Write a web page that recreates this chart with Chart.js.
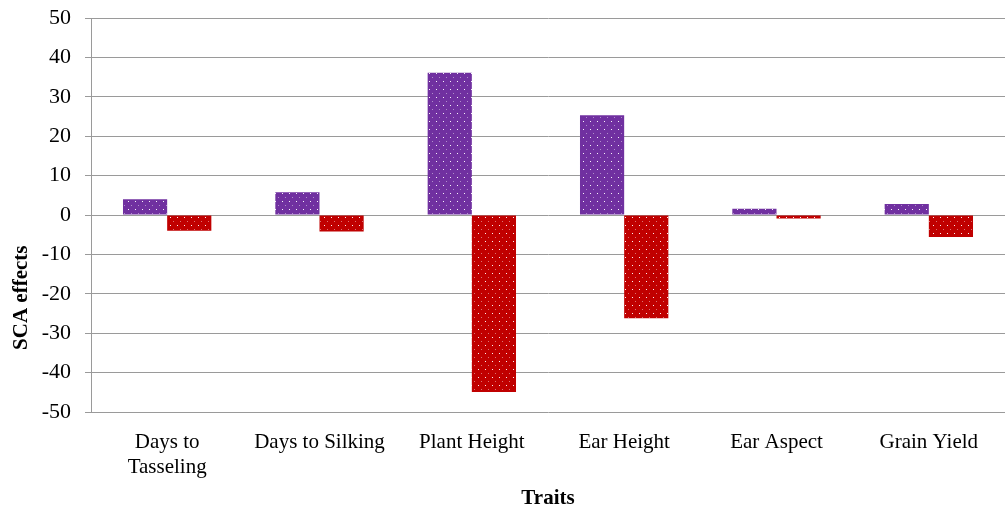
<!DOCTYPE html>
<html>
<head>
<meta charset="utf-8">
<script src="https://cdn.jsdelivr.net/npm/chart.js@4.4.1/dist/chart.umd.min.js"></script>
<style>
  body { margin: 0; background: #fff; }
  #wrap { width: 1008px; height: 507px; position: relative; }
</style>
</head>
<body>
<div id="wrap"><canvas id="sca-chart"></canvas></div>
<script>
// traits on the x axis
const traits = [['Days to', 'Tasseling'], 'Days to Silking', 'Plant Height', 'Ear Height', 'Ear Aspect', 'Grain Yield'];
// two crosses, values
const purpleValues = [4.0, 5.8, 36.1, 25.3, 1.6, 2.8];
const redValues = [-4.0, -4.2, -44.9, -26.2, -0.9, -5.6];
const yTicks = [50, 40, 30, 20, 10, 0, -10, -20, -30, -40, -50];

// dotted fill like the excel pattern
function dotPattern(color) {
    const c = document.createElement('canvas');
    c.width = 7;
    c.height = 8;
    const g = c.getContext('2d');
    g.fillStyle = color;
    g.fillRect(0, 0, 7, 8);
    g.fillStyle = 'rgba(255,255,255,0.95)';
    g.fillRect(2, 1, 1, 1);
    g.fillStyle = 'rgba(255,255,255,0.45)';
    g.fillRect(5, 5, 1, 1);
    return g.createPattern(c, 'repeat');
}

// y title sits lower than centre in the original
const yTitlePlugin = {
    id: 'yTitle',
    afterDraw(chart) {
        const ctx = chart.ctx;
        const y = chart.scales.y.getPixelForValue(-21);
        ctx.save();
        ctx.translate(22, y);
        ctx.rotate(-Math.PI / 2);
        ctx.font = 'bold 21px "Liberation Serif"';
        ctx.fillStyle = '#000';
        ctx.textAlign = 'center';
        ctx.textBaseline = 'middle';
        ctx.fillText('SCA effects', 0, 0);
        ctx.restore();
    }
};

new Chart(document.querySelector('#sca-chart').getContext('2d'), {
    type: 'bar',
    data: {
        labels: traits,
        datasets: [{
            label: 'Cross 1',
            data: purpleValues,
            backgroundColor: dotPattern('#7030A0'),
            borderWidth: 0
        }, {
            label: 'Cross 2',
            data: redValues,
            backgroundColor: dotPattern('#C00000'),
            borderWidth: 0
        }]
    },
    options: {
        responsive: true,
        maintainAspectRatio: false,
        animation: false,
        layout: { padding: { top: 18, right: 3, left: 0, bottom: 0 } },
        plugins: {
            legend: { display: false },
            tooltip: { enabled: false }
        },
        datasets: {
            bar: { categoryPercentage: 0.58, barPercentage: 1 }
        },
        scales: {
            x: {
                grid: { display: false },
                border: { display: false },
                ticks: {
                    color: '#000',
                    font: { family: 'Liberation Serif', size: 21, lineHeight: 1.2 },
                    maxRotation: 0,
                    padding: 10
                },
                title: {
                    display: true,
                    text: 'Traits',
                    color: '#000',
                    font: { family: 'Liberation Serif', size: 21, weight: 'bold' },
                    padding: { top: 18, bottom: -4 }
                },
                afterFit(scale) { scale.height = 95; }
            },
            y: {
                min: -50,
                max: 50,
                afterBuildTicks(scale) { scale.ticks = yTicks.map(v => ({ value: v })); },
                grid: { color: '#9a9a9a', lineWidth: 1, tickLength: 6, drawTicks: true },
                border: { display: true, color: '#9a9a9a' },
                ticks: {
                    color: '#000',
                    font: { family: 'Liberation Serif', size: 22 },
                    padding: 14
                },
                afterFit(scale) {
                    scale.width = 91;
                    scale.paddingTop = 0;
                    scale.paddingBottom = 0;
                }
            }
        }
    },
    plugins: [yTitlePlugin]
});
</script>
</body>
</html>
